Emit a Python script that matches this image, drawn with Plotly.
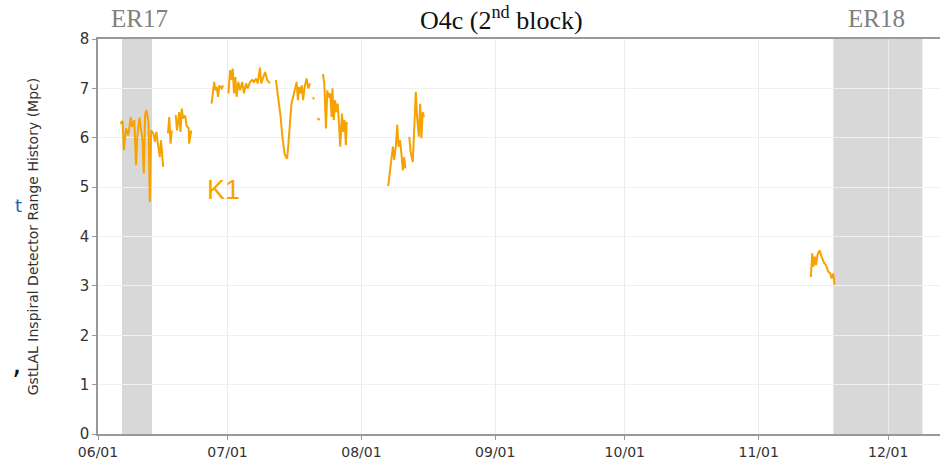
import pandas as pd
import plotly.graph_objects as go

# K1 range history, days since 2025-06-01 (None = gap in data)
k1_day = [
    5.2, 5.7, 6.0, 6.5, 7.0, 7.6, 7.9, 8.4, 8.8, 9.1, 9.6, 10.0, 10.3, 10.6, 10.9, 11.2,
    11.7, 12.0, 12.3, 12.8, 13.2, 13.5, 14.0, 14.3, 14.6, 15.1, None,
    16.2, 16.5, 16.8, 17.1, None,
    18.0, 18.3, 18.8, 19.1, 19.4, 19.7, 20.2, 20.5, 21.0, 21.1, 21.6, None,
    26.3, 26.6, 26.9, 27.2, 27.5, 27.8, 28.1, 28.6, 29.0, None,
    30.2, 30.6, 30.9, 31.2, 31.5, 31.8, 32.1, 32.5, 32.9, 33.4, 33.8, 34.3, 34.7, 35.2,
    35.7, 36.1, 36.6, 37.0, 37.5, 37.8, 38.3, 38.7, 39.2, 39.8, None,
    41.2, 41.7, 42.3, 42.7, 43.2, 43.5, 43.8, 44.1, 44.4, 44.8, 45.2, 45.6, 46.0, 46.3,
    46.6, 46.9, 47.2, 47.5, 47.9, 48.3, 48.7, 49.1, None,
    49.8, 50.0, None,
    50.8, 51.4, None,
    52.1, 52.4, 52.8, 53.1, 53.4, 53.8, 54.1, 54.3, 54.6, 54.9, 55.2, 55.5, 55.8, 56.1,
    56.5, 56.8, 57.1, 57.4, 57.6, None,
    67.2, 67.6, 68.0, 68.3, 68.6, 69.0, 69.3, 69.6, 69.9, 70.2, 70.6, 70.9, 71.2, None,
    72.1, 72.4, 72.9, 73.2, 73.4, 73.6, 73.9, 74.3, 74.6, 74.9, 75.2, 75.5, None,
    165.1, 165.4, 165.7, 166.0, 166.3, 166.6, 167.1, 167.4, 167.7, 168.2, 168.6, 169.1,
    169.6, 169.9, 170.3, 170.6,
]
k1_range = [
    6.28, 6.34, 5.75, 6.19, 6.05, 6.41, 6.22, 6.36, 5.45, 6.02, 6.41, 6.15, 5.95, 5.28, 6.46, 6.56,
    6.32, 4.70, 6.15, 6.09, 5.92, 6.12, 5.85, 5.61, 5.95, 5.41, None,
    6.09, 6.42, 5.88, 6.15, None,
    6.46, 6.15, 6.52, 6.12, 6.59, 6.39, 6.45, 6.25, 6.19, 5.88, 6.15, None,
    6.69, 6.90, 7.13, 6.96, 7.03, 6.83, 7.06, 7.00, 7.06, None,
    6.90, 7.37, 7.17, 7.40, 6.90, 7.23, 6.83, 7.13, 6.96, 7.13, 6.90, 7.10, 7.00, 7.13,
    7.17, 7.13, 7.20, 7.10, 7.42, 7.10, 7.23, 7.33, 7.17, 7.10, None,
    7.17, 6.83, 6.42, 6.02, 5.68, 5.61, 5.58, 5.88, 6.29, 6.69, 6.83, 6.96, 7.13, 6.76,
    7.03, 6.90, 7.06, 6.76, 7.05, 7.20, 7.00, 7.10, None,
    6.82, 6.78, None,
    6.39, 6.36, None,
    7.29, 7.10, 6.19, 6.96, 6.82, 6.90, 6.42, 7.00, 6.36, 6.76, 6.52, 6.69, 6.29, 5.82,
    6.49, 6.12, 6.36, 5.85, 6.32, None,
    5.02, 5.34, 5.58, 5.82, 5.55, 5.85, 6.26, 5.82, 5.95, 5.75, 5.34, 5.61, 5.38, None,
    6.02, 5.71, 5.51, 6.09, 6.56, 6.93, 6.42, 6.02, 6.69, 5.99, 6.52, 6.42, None,
    3.18, 3.66, 3.39, 3.59, 3.42, 3.62, 3.72, 3.62, 3.56, 3.46, 3.42, 3.29,
    3.25, 3.15, 3.25, 3.02,
]

run_start = pd.Timestamp("2025-06-01")
k1_time = [None if d is None else run_start + pd.Timedelta(days=d) for d in k1_day]

# engineering runs shaded on the plot
er_names = ["ER17", "ER18"]
er_start = ["2025-06-06 13:00", "2025-11-18 07:00"]
er_end = ["2025-06-13 12:00", "2025-12-08 22:00"]

# plot box in page pixels (page body margin is removed below)
W, H = 940, 466
L, R, T, B = 98, 940, 39, 434
def px_x(p):
    return (p - L) / (R - L)
def px_y(p):
    return (B - p) / (B - T)

fig = go.Figure()
fig.add_trace(go.Scatter(
    x=k1_time, y=k1_range, mode="lines",
    line=dict(color="#f6a200", width=2),
    connectgaps=False, showlegend=False,
))

for s, e in zip(er_start, er_end):
    fig.add_shape(type="rect", xref="x", yref="paper", x0=s, x1=e, y0=0, y1=1,
                  fillcolor="#d8d8d8", line_width=0, layer="below")

# labels above the plot
serif = "Liberation Serif"
for name, cx in zip(er_names, [139, 876]):
    fig.add_annotation(text=name, xref="paper", yref="paper", x=px_x(cx), y=px_y(19),
                       xanchor="center", yanchor="middle", showarrow=False,
                       font=dict(family=serif, size=25, color="#808080"))
fig.add_annotation(text="O4c (2<sup>nd</sup> block)", xref="paper", yref="paper", x=px_x(501),
                   y=px_y(19), xanchor="center", yanchor="middle", showarrow=False,
                   font=dict(family=serif, size=26, color="#111111"))
fig.add_annotation(text="K1", x=run_start + pd.Timedelta(days=29.0), y=(B - 190) / 49.375,
                   showarrow=False, xanchor="center", yanchor="middle",
                   font=dict(family="Liberation Sans", size=27, color="#f6a200"))

# fragments of neighbouring slide content at the left edge
fig.add_annotation(text="t", xref="paper", yref="paper", x=px_x(13), y=px_y(205),
                   showarrow=False, font=dict(family="DejaVu Sans", size=18, color="#2a5db0"))
fig.add_annotation(text=",", xref="paper", yref="paper", x=px_x(10), y=px_y(382),
                   showarrow=False, font=dict(family="DejaVu Sans", size=30, color="#111111"))

fig.update_layout(
    width=W, height=H,
    margin=dict(l=L, r=W - R, t=T, b=H - B, autoexpand=False),
    paper_bgcolor="white", plot_bgcolor="white",
    font=dict(family="DejaVu Sans", size=13, color="#444444"),
)
fig.update_xaxes(
    type="date", range=["2025-06-01", "2025-12-13"], automargin=False,
    dtick="M1", tick0="2025-06-01", tickformat="%m/%d",
    showgrid=True, gridcolor="#ebebeb", gridwidth=1,
    showline=True, linecolor="#999999", linewidth=1.5, mirror=True,
    ticks="outside", ticklen=4, tickcolor="#999999",
    tickfont=dict(size=14, color="#333333"),
)
fig.update_yaxes(
    range=[0, 8], dtick=1, automargin=False,
    showgrid=True, gridcolor="#f0f0f0", gridwidth=1,
    showline=True, linecolor="#999999", linewidth=1.5, zeroline=False,
    ticks="outside", ticklen=4, tickcolor="#999999",
    tickfont=dict(size=15, color="#333333"),
    title=dict(text="GstLAL Inspiral Detector Range History (Mpc)", font=dict(size=14, color="#333333"),
               standoff=38),
)

fig.write_html("out.html", config={"displayModeBar": False},
               post_script="document.body.style.margin = '0';")
